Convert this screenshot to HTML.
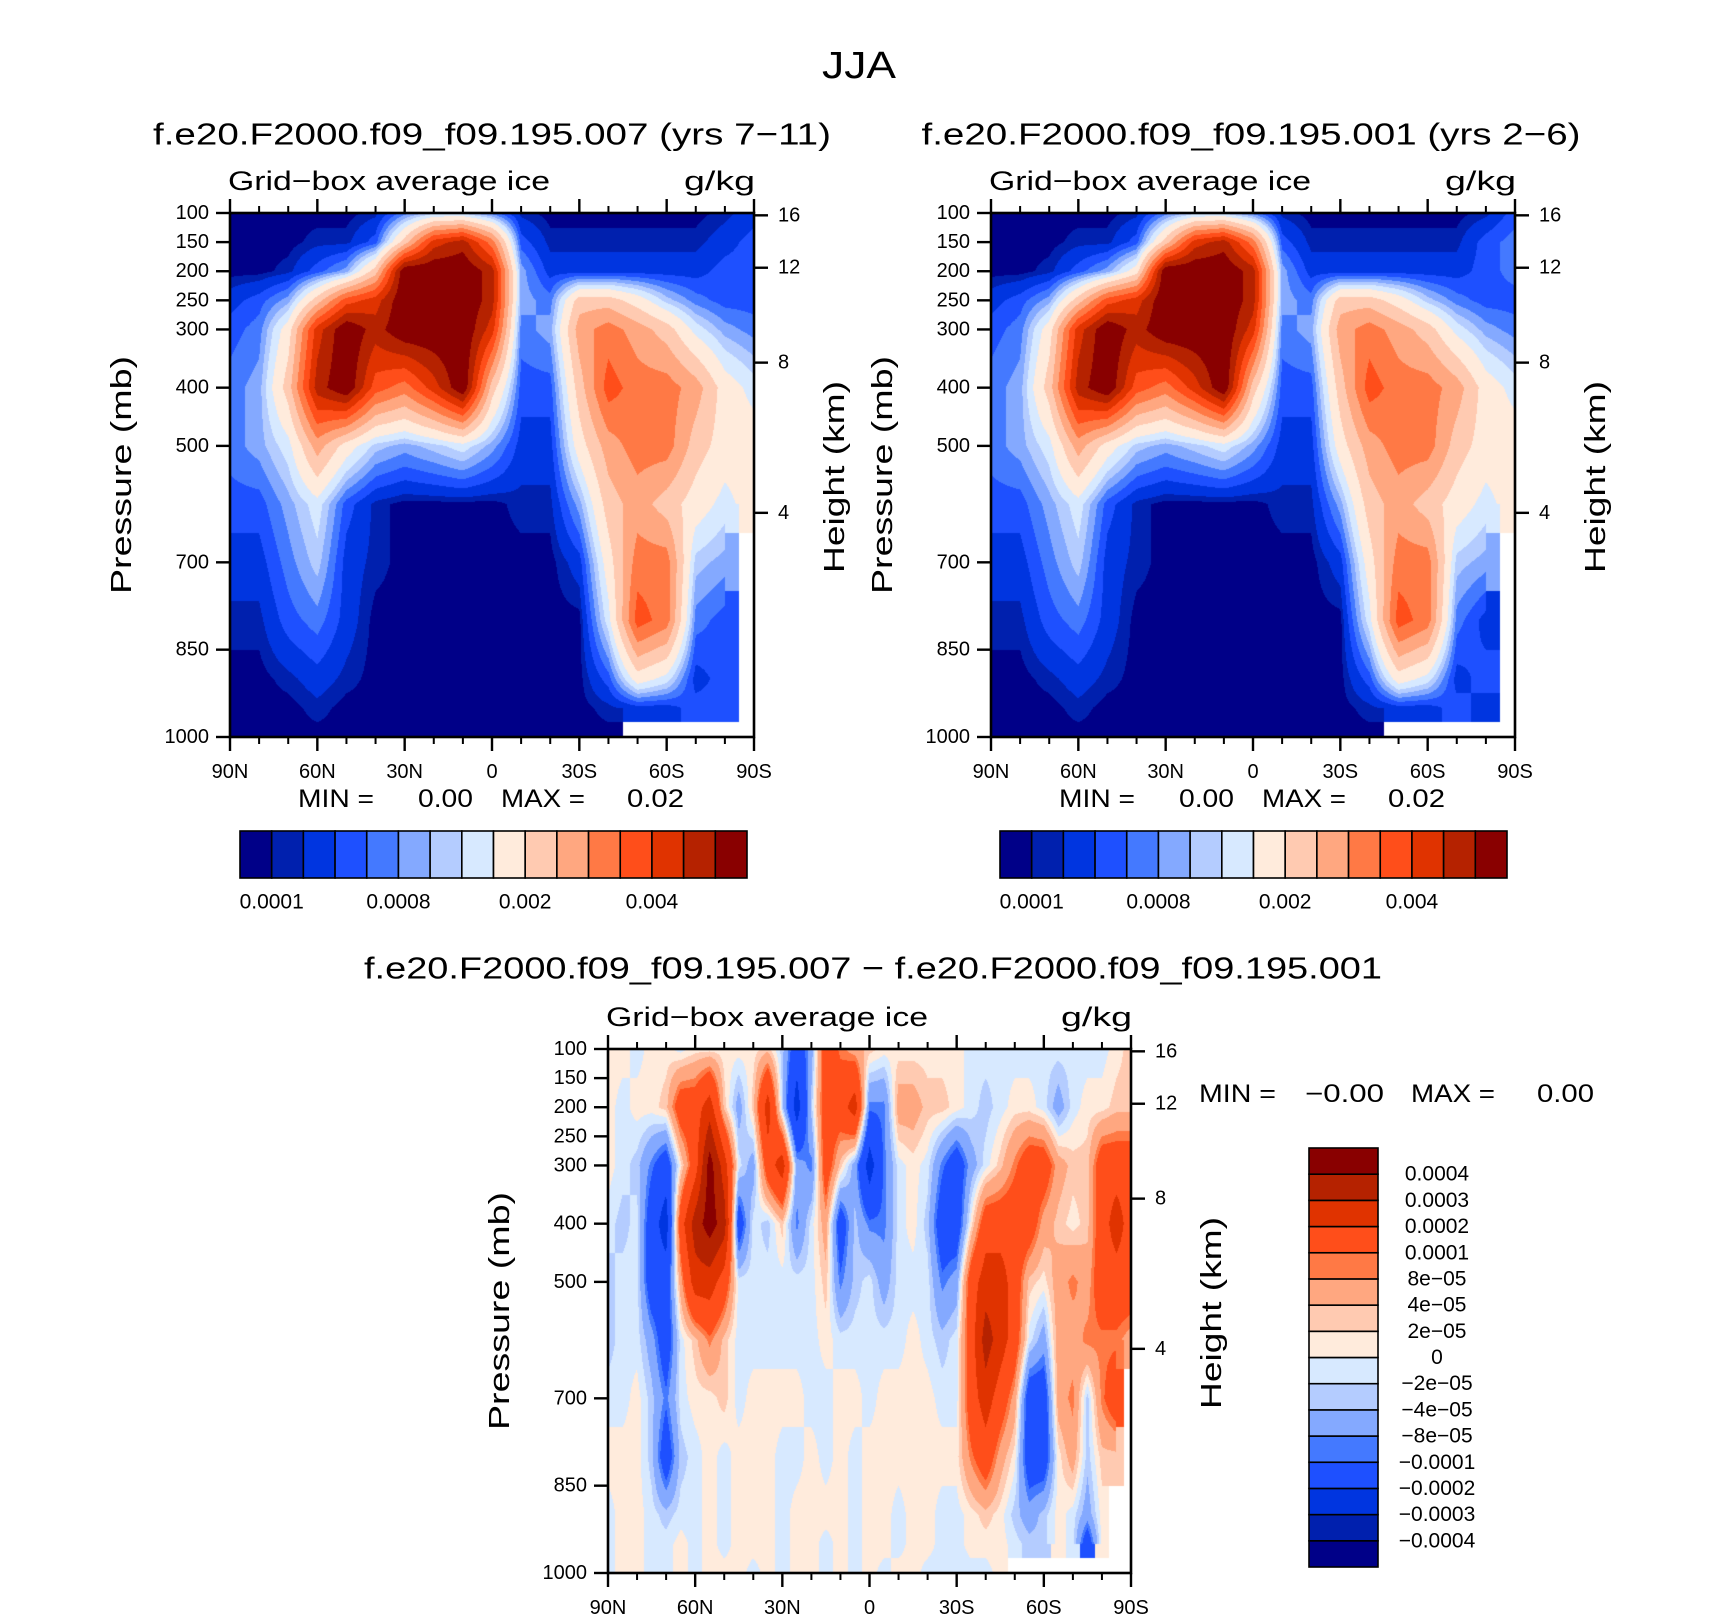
<!DOCTYPE html>
<html><head><meta charset="utf-8"><title>JJA Grid-box average ice</title>
<style>
html,body{margin:0;padding:0;background:#fff;}
#root{position:relative;width:1710px;height:1616px;overflow:hidden;background:#fff;}
canvas{position:absolute;}
svg{position:absolute;left:0;top:0;}
text{font-family:"Liberation Sans",sans-serif;fill:#000;}
</style></head>
<body>
<div id="root">
<canvas id="c1"></canvas>
<canvas id="c2"></canvas>
<canvas id="c3"></canvas>
<svg id="ov" width="1710" height="1616"></svg>
</div>
<script>
// ---------- data ----------
const lats1 = [90,80,70,60,50,40,30,20,10,0,-10,-20,-30,-40,-50,-60,-70,-80,-90];
const pres1 = [100,150,200,250,300,400,500,600,700,800,900,950,1000];
// ice mixing ratio, units of 1e-3 g/kg, model run .007
const ice007 = [
[.05,.05,.05,.05,.05,.15,.7,1.1,1.1,.7,.15,.05,.05,.05,.05,.05,.05,.15,.3],
[.05,.05,.05,.15,.15,.5,2.25,4.25,4.75,3.25,.5,.15,.15,.15,.15,.15,.15,.3,.5],
[.05,.05,.15,.5,.9,2.25,5.5,5.5,5.5,4.75,.9,.3,.3,.3,.3,.3,.3,.5,.5],
[.3,.5,.9,2.25,3.75,4.25,5.5,5.5,5.5,4.75,.9,.7,2.25,2.25,1.75,1.1,.7,.5,.5],
[.5,.7,1.75,4.25,5.5,4.75,5.5,5.5,5.5,4.25,.7,.9,2.75,3.25,2.75,2.25,1.35,.9,.7],
[.7,.9,2.25,4.75,5.5,3.75,3.25,4.25,5.5,2.25,.5,.5,2.25,3.75,3.25,3.25,2.75,1.75,1.35],
[.7,.9,1.35,2.75,1.75,1.1,.9,1.1,1.35,.9,.3,.3,1.75,2.75,3.25,3.25,2.25,1.75,1.75],
[.5,.5,.9,1.35,.5,.15,.05,.05,.05,.05,.15,.15,.9,2.25,2.75,2.25,1.75,1.35,1.75],
[.3,.3,.7,1.1,.3,.15,.05,.05,.05,.05,.05,.05,.3,1.75,3.25,3.25,1.1,.9,null],
[.15,.15,.5,.7,.3,.05,.05,.05,.05,.05,.05,.05,.05,1.35,3.75,3.25,.7,.5,null],
[.05,.05,.15,.3,.15,.05,.05,.05,.05,.05,.05,.05,.05,.5,1.75,1.35,.3,.5,null],
[.05,.05,.05,.15,.05,.05,.05,.05,.05,.05,.05,.05,.05,.15,.3,.3,.5,.5,null],
[.05,.05,.05,.05,.05,.05,.05,.05,.05,.05,.05,.05,.05,.05,null,null,null,null,null]
];
// ice mixing ratio, units of 1e-3 g/kg, model run .001
const ice001 = [
[.05,.05,.05,.05,.05,.15,.7,1.1,1.1,.7,.15,.05,.05,.05,.05,.05,.05,.15,.5],
[.05,.05,.05,.15,.15,.5,2.25,4.25,4.75,3.25,.5,.15,.15,.15,.15,.15,.15,.5,.7],
[.05,.05,.15,.5,.9,1.75,5.5,5.5,5.5,4.75,.9,.3,.3,.3,.3,.3,.3,.5,.7],
[.3,.5,.9,2.25,3.75,4.25,5.5,5.5,5.5,4.75,.9,.7,2.25,2.25,1.75,1.1,.7,.5,.5],
[.5,.7,1.75,4.25,5.5,4.75,5.5,5.5,5.5,4.25,.7,.9,2.75,3.25,2.75,2.25,1.35,.9,.7],
[.7,.9,2.25,4.75,5.5,3.75,3.25,4.25,5.5,2.25,.5,.5,2.25,3.75,3.25,3.25,2.75,1.75,1.35],
[.7,.9,1.35,2.75,1.75,1.1,.9,1.1,1.35,.9,.3,.3,1.75,2.75,3.25,3.25,2.25,1.75,1.75],
[.5,.5,.9,1.35,.5,.15,.05,.05,.05,.05,.15,.15,.9,2.25,2.75,2.25,1.75,1.35,1.75],
[.3,.3,.7,1.1,.3,.15,.05,.05,.05,.05,.05,.05,.3,1.75,3.25,3.25,1.1,.9,null],
[.15,.15,.5,.7,.3,.05,.05,.05,.05,.05,.05,.05,.05,1.35,3.75,3.25,.7,.3,null],
[.05,.05,.15,.3,.15,.05,.05,.05,.05,.05,.05,.05,.05,.5,1.75,1.35,.3,.5,null],
[.05,.05,.05,.15,.05,.05,.05,.05,.05,.05,.05,.05,.05,.15,.3,.3,.5,.3,null],
[.05,.05,.05,.05,.05,.05,.05,.05,.05,.05,.05,.05,.05,.05,null,null,null,null,null]
];
const lats3 = [90,85,80,75,70,65,60,55,50,45,40,35,30,25,20,15,10,5,0,-5,-10,-15,-20,-25,-30,-35,-40,-45,-50,-55,-60,-65,-70,-75,-80,-85,-90];
const pres3 = [100,200,300,400,500,600,700,800,900,950,1000];
// difference values, units of 1e-5 g/kg
const iceDiff = [
[1,1,-1,1,1,-1,1,1,1,1,1,3,-3,-15,-6,15,9,6,3,1,1,1,1,1,1,-1,-1,-1,-1,-1,-1,-1,-1,-1,-1,1,3],
[1,-1,1,1,3,15,15,25,3,-6,3,25,-3,-25,-3,15,15,25,-9,-9,6,6,3,3,1,-1,-3,-1,1,1,-1,-6,-1,1,1,3,3],
[1,-1,-3,-9,-15,1,15,45,25,-1,-6,15,25,-6,-9,15,3,-6,-25,-9,-1,1,-1,-9,-15,-6,-1,3,9,15,15,6,3,3,15,15,15],
[-1,-3,-1,-15,-25,15,35,45,35,-15,-1,-3,3,-9,-1,6,-15,-3,-9,-9,-1,1,-3,-15,-15,1,15,15,15,15,6,3,1,3,15,25,15],
[-3,-1,-1,-15,-15,6,25,25,15,-1,-1,-1,-1,-1,-1,3,-9,-3,-1,-6,-1,-1,-1,-9,-6,15,25,25,15,3,1,6,9,6,15,15,15],
[-3,-1,-1,-6,-15,-1,3,9,3,-1,-1,-1,-1,-1,-1,1,-1,-1,-1,-1,-1,1,-1,-3,-1,15,35,25,15,-1,-6,6,6,9,9,9,6],
[-1,-1,1,-3,-9,-1,1,1,3,-1,1,1,1,1,-1,-1,1,1,-1,1,1,1,1,-1,-1,15,25,15,6,-15,-15,6,9,-3,9,15,null],
[1,1,1,-3,-15,-3,-1,1,-1,1,1,1,-1,-1,1,-1,1,-1,1,1,1,1,1,1,1,9,15,6,1,-15,-15,1,6,-3,3,3,null],
[-1,1,1,-1,-3,-1,-1,1,-1,1,1,1,-1,1,1,1,1,-1,1,1,-1,1,1,-1,-1,1,3,1,-3,-6,-3,1,-1,-6,1,null,null],
[-1,1,1,-1,-1,1,-1,1,-1,1,1,1,-1,1,1,-1,1,-1,1,1,-1,1,1,-1,-1,1,1,1,-1,-3,-3,1,-1,-15,1,null,null],
[-1,1,1,-1,-1,1,-1,1,1,1,-1,1,-1,1,1,-1,1,-1,1,-1,1,1,-1,-1,-1,-1,-1,1,null,null,null,null,null,null,null,null,null]
];
const levels1 = [0.1,0.2,0.4,0.6,0.8,1.0,1.2,1.5,2.0,2.5,3.0,3.5,4.0,4.5,5.0];
const levels3 = [-40,-30,-20,-10,-8,-4,-2,0,2,4,8,10,20,30,40];
const cbTicks1 = [1,5,9,13];
const cbLabels1 = ['0.0001','0.0008','0.002','0.004'];
const cbLabels3 = ['\u22120.0004','\u22120.0003','\u22120.0002','\u22120.0001','\u22128e\u221205','\u22124e\u221205','\u22122e\u221205','0','2e\u221205','4e\u221205','8e\u221205','0.0001','0.0002','0.0003','0.0004'];
const pTicks = [100,150,200,250,300,400,500,700,850,1000];
const hTickLabels = ['16','12','8','4'];
const hTickPres = [104,194,357,615];
const latMajor = [90,60,30,0,-30,-60,-90];
const latLabels = ['90N','60N','30N','0','30S','60S','90S'];
const latMinor = [80,70,50,40,20,10,-10,-20,-40,-50,-70,-80];

const palette = ['#000088','#0020AE','#0035E0','#1E50FF','#4479FF','#84A9FF','#B4CCFF','#D7E9FF','#FFEBDC','#FFCAB1','#FFA780','#FF7945','#FF4E1A','#E03300','#B52200','#890000'];

// ---------- layout ----------
const plots = [
 {key:'p1', canvas:'c1', x0:230, x1:754, y0:213, y1:737, lats:lats1, pres:pres1, grid:ice007, levels:levels1},
 {key:'p2', canvas:'c2', x0:991, x1:1515, y0:213, y1:737, lats:lats1, pres:pres1, grid:ice001, levels:levels1},
 {key:'p3', canvas:'c3', x0:608, x1:1131, y0:1049, y1:1573, lats:lats3, pres:pres3, grid:iceDiff, levels:levels3}
];
function xOf(pl, lat){ return pl.x0 + (90-lat)/180*(pl.x1-pl.x0); }
function yOf(pl, p){ return pl.y0 + (p-100)/900*(pl.y1-pl.y0); }
function colorIndex(v, lv){ let i=0; while(i<lv.length && v>=lv[i]) i++; return i; }
function hexRgb(h){ return [parseInt(h.substr(1,2),16),parseInt(h.substr(3,2),16),parseInt(h.substr(5,2),16)]; }
const palRgb = palette.map(hexRgb);

function bracket(arr, v, desc){
  const n=arr.length;
  for(let i=0;i<n-1;i++){
    const a=arr[i], b=arr[i+1];
    if(desc ? (v<=a && v>=b) : (v>=a && v<=b)){ return [i,(v-a)/(b-a)]; }
  }
  return desc ? (v>arr[0]?[0,0]:[n-2,1]) : (v<arr[0]?[0,0]:[n-2,1]);
}

function drawField(pl){
  const cv=document.getElementById(pl.canvas);
  const w=Math.round(pl.x1-pl.x0), h=Math.round(pl.y1-pl.y0);
  cv.width=w; cv.height=h;
  cv.style.left=pl.x0+'px'; cv.style.top=pl.y0+'px';
  const ctx=cv.getContext('2d');
  const img=ctx.createImageData(w,h);
  for(let py=0;py<h;py++){
    const p = 100 + (py+0.5)/h*900;
    const [r,fy]=bracket(pl.pres,p,false);
    for(let px=0;px<w;px++){
      const lat = 90 - (px+0.5)/w*180;
      const [c,fx]=bracket(pl.lats,lat,true);
      const g=pl.grid;
      const a=g[r][c], b=g[r][c+1], d=g[r+1][c], e=g[r+1][c+1];
      let v;
      if(a===null||b===null||d===null||e===null){
        const rr = fy<0.5?r:r+1, cc = fx<0.5?c:c+1;
        v = g[rr][cc];
      } else {
        v = a*(1-fx)*(1-fy)+b*fx*(1-fy)+d*(1-fx)*fy+e*fx*fy;
      }
      const k=(py*w+px)*4;
      if(v===null){ img.data[k]=255;img.data[k+1]=255;img.data[k+2]=255;img.data[k+3]=255; continue; }
      const col=palRgb[colorIndex(v,pl.levels)];
      img.data[k]=col[0];img.data[k+1]=col[1];img.data[k+2]=col[2];img.data[k+3]=255;
    }
  }
  ctx.putImageData(img,0,0);
}
plots.forEach(drawField);

// ---------- overlay ----------
const NS='http://www.w3.org/2000/svg';
const ov=document.getElementById('ov');
function mk(tag, attrs, parent){
  const el=document.createElementNS(NS,tag);
  for(const k in attrs) el.setAttribute(k,attrs[k]);
  (parent||ov).appendChild(el);
  return el;
}
function txt(str, x, y, size, anchor, parent, len){
  const t=mk('text',{x:x,y:y,'font-size':size,'text-anchor':anchor||'start','dominant-baseline':'central'},parent);
  if(len){ t.setAttribute('textLength',len); t.setAttribute('lengthAdjust','spacingAndGlyphs'); }
  t.textContent=str;
  return t;
}

let el;
el = txt('JJA', 859, 66, 38, 'middle', null, 74);



const titles = [
  {s:'f.e20.F2000.f09_f09.195.007 (yrs 7\u221211)', cx:492, cy:134, len:678, n:'plot-1-title'},
  {s:'f.e20.F2000.f09_f09.195.001 (yrs 2\u22126)', cx:1251, cy:134, len:659, n:'plot-2-title'},
  {s:'f.e20.F2000.f09_f09.195.007 \u2212 f.e20.F2000.f09_f09.195.001', cx:873, cy:968, len:1018, n:'difference-title'}
];
titles.forEach(function(t){
  el = txt(t.s, t.cx, t.cy, 31, 'middle', null, t.len);
  
  
});

function drawAxes(pl, idx){
  const g=mk('g',{});
  
  
  el = txt('Grid\u2212box average ice', pl.x0-2, pl.y0-32, 27, 'start', g, 322);
  
  
  el = txt('g/kg', pl.x1+1, pl.y0-32, 27, 'end', g, 71);
  
  
  el = mk('rect',{x:pl.x0,y:pl.y0,width:pl.x1-pl.x0,height:pl.y1-pl.y0,fill:'none',stroke:'#000','stroke-width':2.6},g);
  
  
  pTicks.forEach(function(p){
    const y=yOf(pl,p);
    mk('line',{x1:pl.x0-14,y1:y,x2:pl.x0,y2:y,stroke:'#000','stroke-width':2.4},g);
    el = txt(String(p), pl.x0-21, y, 20, 'end', g);
    
    
  });
  hTickPres.forEach(function(p,i){
    const y=yOf(pl,p);
    mk('line',{x1:pl.x1,y1:y,x2:pl.x1+14,y2:y,stroke:'#000','stroke-width':2.4},g);
    el = txt(hTickLabels[i], pl.x1+24, y, 20, 'start', g);
    
    
  });
  latMajor.forEach(function(lat,i){
    const x=xOf(pl,lat);
    mk('line',{x1:x,y1:pl.y1,x2:x,y2:pl.y1+14,stroke:'#000','stroke-width':2.4},g);
    mk('line',{x1:x,y1:pl.y0,x2:x,y2:pl.y0-14,stroke:'#000','stroke-width':2.4},g);
    el = txt(latLabels[i], x, pl.y1+35, 20, 'middle', g);
    
    
  });
  latMinor.forEach(function(lat){
    const x=xOf(pl,lat);
    mk('line',{x1:x,y1:pl.y1,x2:x,y2:pl.y1+7,stroke:'#000','stroke-width':2},g);
    mk('line',{x1:x,y1:pl.y0,x2:x,y2:pl.y0-7,stroke:'#000','stroke-width':2},g);
  });
  const cy=(pl.y0+pl.y1)/2;
  const lx = pl.x0-108;
  el = txt('Pressure (mb)', 0, 0, 29, 'middle', g, 238);
  el.setAttribute('transform','translate('+lx+','+cy+') rotate(-90)');
  
  
  el = txt('Height (km)', 0, 0, 29, 'middle', g, 192);
  el.setAttribute('transform','translate('+(pl.x1+81)+','+(cy+2)+') rotate(-90)');
  
  
}
plots.forEach(drawAxes);

function minmax(items, y, name){
  const g=mk('g',{});
  
  
  items.forEach(function(it){ txt(it[0], it[1], y, 25, 'start', g, it[2]); });
}
minmax([['MIN =',298,76],['0.00',418,55],['MAX =',501,84],['0.02',627,57]], 799, 'plot-1-min-max');
minmax([['MIN =',1059,76],['0.00',1179,55],['MAX =',1262,84],['0.02',1388,57]], 799, 'plot-2-min-max');
minmax([['MIN =',1199,77],['\u22120.00',1305,79],['MAX =',1411,84],['0.00',1537,57]], 1094, 'difference-min-max');

function hbar(x0,x1,y0,y1,name){
  const g=mk('g',{});
  
  
  const n=palette.length, w=(x1-x0)/n;
  palette.forEach(function(c,i){
    el = mk('rect',{x:x0+i*w,y:y0,width:w,height:y1-y0,fill:c,stroke:'#000','stroke-width':1.6},g);
    
    
  });
  cbTicks1.forEach(function(k,i){
    el = txt(cbLabels1[i], x0+k*w, y1+24, 21, 'middle', g);
    
    
  });
}
hbar(240,747,831,878,'plot-1-colorbar');
hbar(1000,1507,831,878,'plot-2-colorbar');

(function(){
  const x0=1309,x1=1378,y0=1148,y1=1567;
  const g=mk('g',{});
  
  
  const n=palette.length, h=(y1-y0)/n;
  palette.forEach(function(c,i){
    el = mk('rect',{x:x0,y:y1-(i+1)*h,width:x1-x0,height:h,fill:c,stroke:'#000','stroke-width':1.6},g);
    
    
  });
  cbLabels3.forEach(function(s,k){
    el = txt(s, 1437, y1-(k+1)*h, 21, 'middle', g);
    
    
  });
})();
</script>
</body></html>
